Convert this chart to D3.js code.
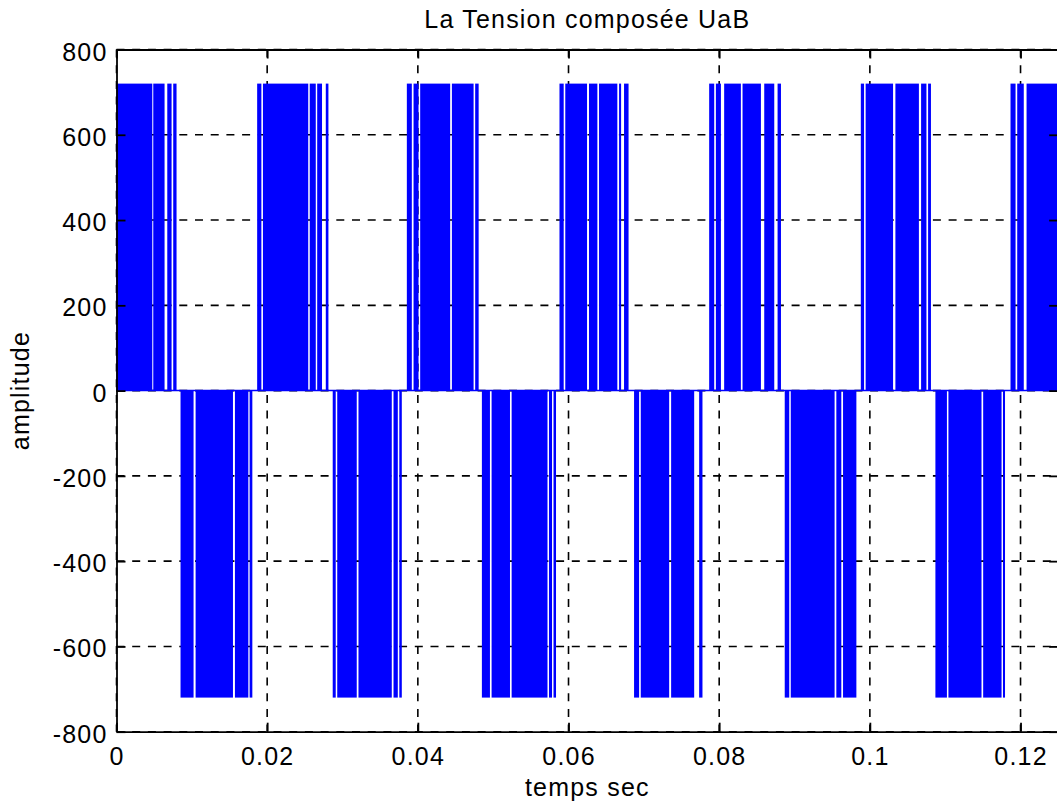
<!DOCTYPE html>
<html>
<head>
<meta charset="utf-8">
<script src="https://cdn.jsdelivr.net/npm/d3@7"></script>
<style>
  html, body { margin: 0; padding: 0; background: #ffffff; }
  svg { display: block; font-family: "Liberation Sans", Arial, Helvetica, sans-serif; }
</style>
</head>
<body>
<svg id="chart" width="1057" height="806"></svg>
<script>
// Line-to-line PWM inverter voltage UaB (V) against time (s).
// Each entry is [start, end] of an interval where the switched voltage is
// densely at +Udc or -Udc; between intervals the voltage sits at 0.
const dcLevel = 720;

const positivePulses = [
  [0.00000, 0.00475], [0.00488, 0.00638], [0.00674, 0.00731], [0.00753, 0.00797],
  [0.01867, 0.01923], [0.01944, 0.02545], [0.02565, 0.02645], [0.02664, 0.02728], [0.02778, 0.02813],
  [0.03854, 0.03920], [0.03943, 0.04009], [0.04031, 0.04429], [0.04452, 0.04740], [0.04761, 0.04807],
  [0.05880, 0.05936], [0.05957, 0.06246], [0.06272, 0.06383], [0.06405, 0.06648], [0.06671, 0.06698], [0.06737, 0.06797],
  [0.07867, 0.07934], [0.07956, 0.08023], [0.08066, 0.08288], [0.08310, 0.08554], [0.08598, 0.08731], [0.08775, 0.08820],
  [0.09880, 0.09923], [0.09944, 0.10308], [0.10339, 0.10651], [0.10680, 0.10751], [0.10773, 0.10811],
  [0.11867, 0.11934], [0.11956, 0.12043], [0.12080, 0.12500]
];

const negativePulses = [
  [0.00850, 0.01023], [0.01050, 0.01546], [0.01572, 0.01750], [0.01767, 0.01803],
  [0.02870, 0.02910], [0.02930, 0.03189], [0.03212, 0.03654], [0.03677, 0.03734], [0.03754, 0.03787],
  [0.04850, 0.04957], [0.04979, 0.05223], [0.05245, 0.05721], [0.05741, 0.05781], [0.05801, 0.05834],
  [0.06870, 0.06937], [0.06959, 0.07336], [0.07362, 0.07668], [0.07734, 0.07778],
  [0.08870, 0.08930], [0.08950, 0.09532], [0.09555, 0.09621], [0.09644, 0.09821],
  [0.10870, 0.11023], [0.11043, 0.11482], [0.11504, 0.11748], [0.11767, 0.11794]
];

const timeDomain = [0, 0.125];
const ampDomain = [-800, 800];
const xTickValues = [0, 0.02, 0.04, 0.06, 0.08, 0.10, 0.12];
const xTickLabels = ["0", "0.02", "0.04", "0.06", "0.08", "0.1", "0.12"];
const yTickValues = [-800, -600, -400, -200, 0, 200, 400, 600, 800];
const yTickLabels = ["-800", "-600", "-400", "-200", "0", "200", "400", "600", "800"];

const titleText = "La Tension composée UaB";
const xLabelText = "temps sec";
const yLabelText = "amplitude";

// ---- layout ----
const plot = { left: 116.5, right: 1058.2, top: 49.5, bottom: 731.7 };
const svg = d3.select("#chart");

const x = d3.scaleLinear().domain(timeDomain).range([plot.left, plot.right]);
const y = d3.scaleLinear().domain(ampDomain).range([plot.bottom, plot.top]);

const tickLen = 9;
const fontSize = 25;
const letterSpace = "1.2px";
const signalColor = "#0000ff";

// Grid (beneath the signal)
const grid = svg.append("g").attr("stroke", "#000").attr("stroke-width", 1.6)
  .attr("stroke-dasharray", "8,7.7").attr("fill", "none");
grid.selectAll("line.gx").data(xTickValues).join("line").attr("class", "gx")
  .attr("x1", d => x(d)).attr("x2", d => x(d))
  .attr("y1", plot.top).attr("y2", plot.bottom);
grid.selectAll("line.gy").data(yTickValues).join("line").attr("class", "gy")
  .attr("x1", plot.left).attr("x2", plot.right)
  .attr("y1", d => y(d)).attr("y2", d => y(d));

// Signal: the zero level, then the +Udc and -Udc pulse trains
const signal = svg.append("g");
signal.append("line")
  .attr("x1", x(timeDomain[0])).attr("x2", x(timeDomain[1]))
  .attr("y1", y(0)).attr("y2", y(0))
  .attr("stroke", signalColor).attr("stroke-width", 1.5);

signal.selectAll("rect.pos").data(positivePulses).join("rect").attr("class", "pos")
  .attr("x", d => x(d[0])).attr("width", d => x(d[1]) - x(d[0]))
  .attr("y", y(dcLevel)).attr("height", y(0) - y(dcLevel))
  .attr("fill", signalColor);

signal.selectAll("rect.neg").data(negativePulses).join("rect").attr("class", "neg")
  .attr("x", d => x(d[0])).attr("width", d => x(d[1]) - x(d[0]))
  .attr("y", y(0)).attr("height", y(-dcLevel) - y(0))
  .attr("fill", signalColor);

// Axes box with inward ticks on all four sides
const axisStyle = g => {
  g.select(".domain").attr("stroke", "#000").attr("stroke-width", 1.8);
  g.selectAll(".tick line").attr("stroke", "#000").attr("stroke-width", 1.8);
  g.selectAll(".tick text").attr("fill", "#000").style("font-size", fontSize + "px")
    .style("letter-spacing", letterSpace);
};

const xBottom = d3.axisBottom(x).tickValues(xTickValues)
  .tickFormat((d, i) => xTickLabels[i]).tickSizeInner(-tickLen).tickSizeOuter(0).tickPadding(14);
svg.append("g").attr("transform", `translate(0,${plot.bottom})`).call(xBottom)
  .call(axisStyle).call(g => g.selectAll(".tick text").attr("dy", null).attr("y", 33.5));

const xTop = d3.axisTop(x).tickValues(xTickValues).tickFormat("")
  .tickSizeInner(-tickLen).tickSizeOuter(0);
svg.append("g").attr("transform", `translate(0,${plot.top})`).call(xTop).call(axisStyle);

const yLeft = d3.axisLeft(y).tickValues(yTickValues)
  .tickFormat((d, i) => yTickLabels[i]).tickSizeInner(-tickLen).tickSizeOuter(0).tickPadding(9);
svg.append("g").attr("transform", `translate(${plot.left},0)`).call(yLeft)
  .call(axisStyle).call(g => g.selectAll(".tick text").attr("dy", null).attr("y", 10.5));

const yRight = d3.axisRight(y).tickValues(yTickValues).tickFormat("")
  .tickSizeInner(-tickLen).tickSizeOuter(0);
svg.append("g").attr("transform", `translate(${plot.right},0)`).call(yRight).call(axisStyle);

// Titles
svg.append("text").attr("x", (plot.left + plot.right) / 2).attr("y", 28)
  .attr("text-anchor", "middle").style("font-size", fontSize + "px")
  .style("letter-spacing", letterSpace).text(titleText);

svg.append("text").attr("x", (plot.left + plot.right) / 2).attr("y", 796)
  .attr("text-anchor", "middle").style("font-size", fontSize + "px")
  .style("letter-spacing", letterSpace).text(xLabelText);

svg.append("text").attr("transform", `translate(29,${y(0)}) rotate(-90)`)
  .attr("text-anchor", "middle").style("font-size", fontSize + "px")
  .style("letter-spacing", letterSpace).text(yLabelText);
</script>
</body>
</html>
